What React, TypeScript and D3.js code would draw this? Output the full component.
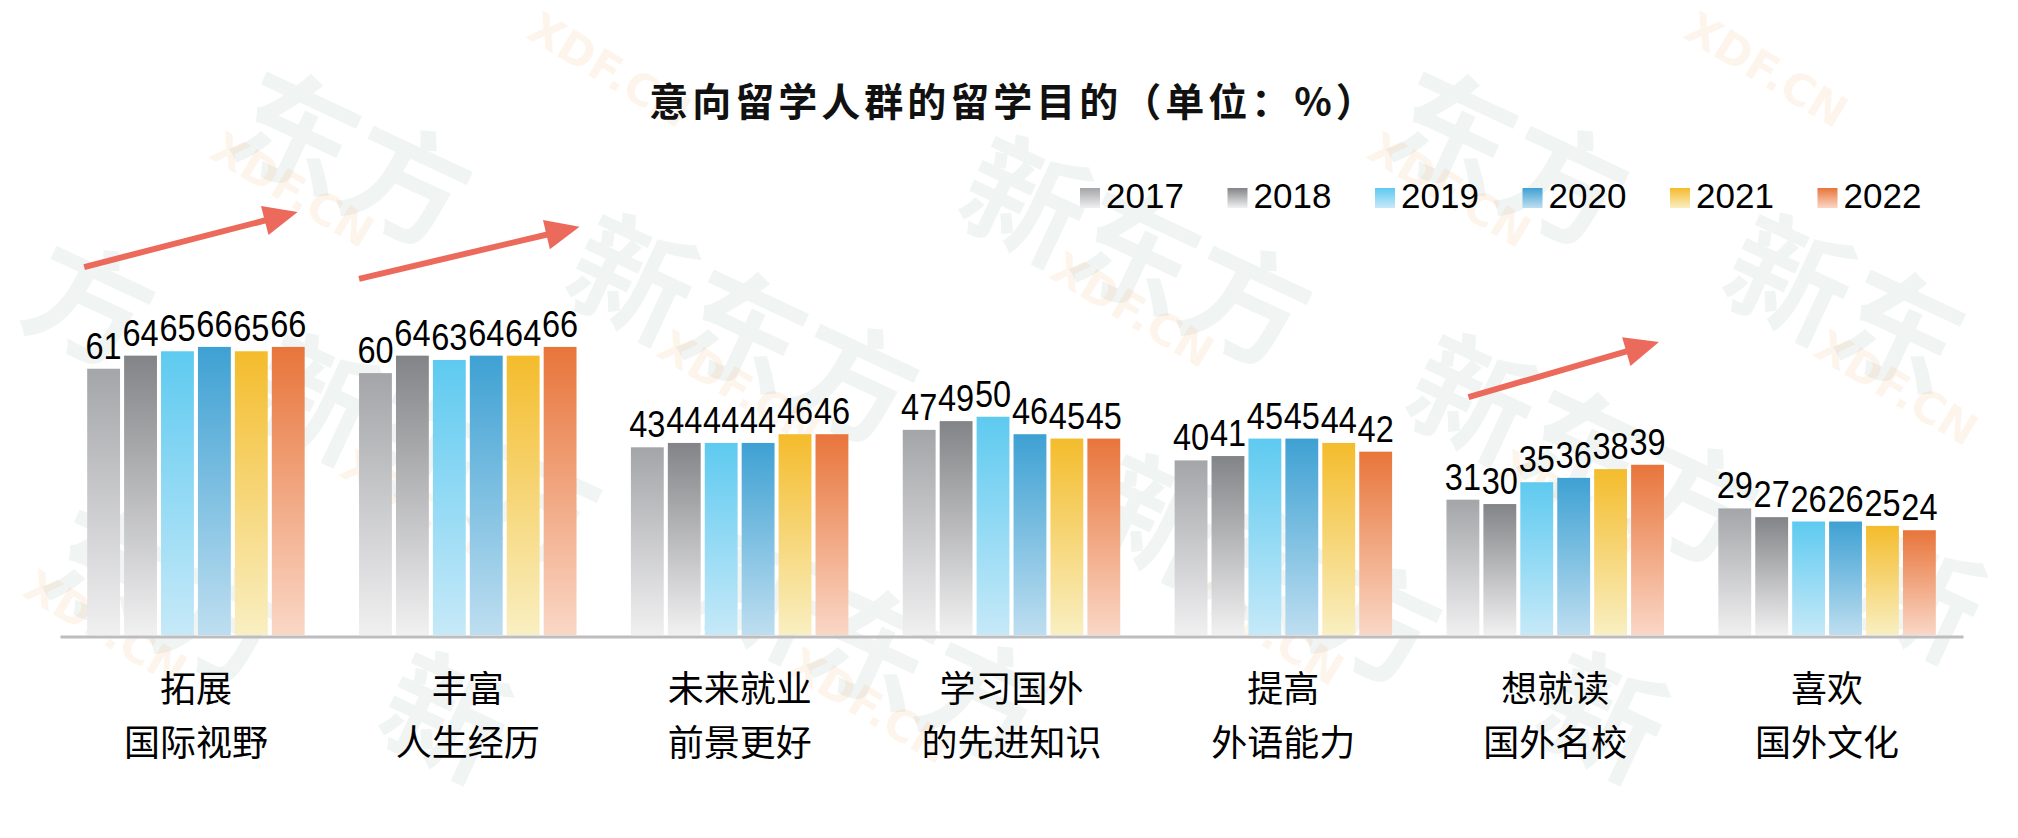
import * as d3 from "d3";
import { useEffect, useRef } from "react";

// category labels, two lines each
const categoriesTop = ["拓展", "丰富", "未来就业", "学习国外", "提高", "想就读", "喜欢"];
const categoriesBottom = ["国际视野", "人生经历", "前景更好", "的先进知识", "外语能力", "国外名校", "国外文化"];

const years = ["2017", "2018", "2019", "2020", "2021", "2022"];

// % per category, one array per year
const values2017 = [61, 60, 43, 47, 40, 31, 29];
const values2018 = [64, 64, 44, 49, 41, 30, 27];
const values2019 = [65, 63, 44, 50, 45, 35, 26];
const values2020 = [66, 64, 44, 46, 45, 36, 26];
const values2021 = [65, 64, 46, 45, 44, 38, 25];
const values2022 = [66, 66, 46, 45, 42, 39, 24];
const series = [values2017, values2018, values2019, values2020, values2021, values2022];

const topColors = ["#a4a5a8", "#838487", "#5ecaf0", "#3ea1d3", "#f4bc2c", "#e8753b"];
const bottomColors = ["#f0f0f1", "#f1f1f2", "#c6e9f8", "#bedef0", "#f9efc2", "#fad7c6"];

// trend arrows: which group, start / end height in value units
const trendGroups = [0, 1, 5];
const trendFrom = [84.3, 81.6, 54.5];
const trendTo = [96.9, 93.5, 67.1];

const title = "意向留学人群的留学目的（单位：%）";
const brand = ["新", "东", "方"];

const W = 2018;
const H = 838;

// does a rotated box (given in local coords, origin at translate point) stay inside the picture
function fits(mx: number, my: number, x0: number, x1: number, top: number, bottom: number, deg: number) {
  const r = (deg * Math.PI) / 180;
  const c = Math.cos(r);
  const s = Math.sin(r);
  const pts = [
    [x0, top],
    [x1, top],
    [x0, bottom],
    [x1, bottom],
  ].map(([u, v]) => [mx + u * c - v * s, my + u * s + v * c]);
  return pts.every(([px, py]) => px >= 2 && px <= W - 2 && py >= 2 && py <= H - 2);
}

function App() {
  const ref = useRef<SVGSVGElement>(null);

  useEffect(() => {
    const svg = d3.select(ref.current);
    svg.selectAll("*").remove();

    const defs = svg.append("defs");
    years.forEach((yr, i) => {
      const g = defs
        .append("linearGradient")
        .attr("id", `grad-${yr}`)
        .attr("x1", 0)
        .attr("y1", 0)
        .attr("x2", 0)
        .attr("y2", 1);
      g.append("stop").attr("offset", "0%").attr("stop-color", topColors[i]);
      g.append("stop").attr("offset", "100%").attr("stop-color", bottomColors[i]);
    });

    // watermark, drawn under the chart; glyphs that would be cut at the edge are skipped
    const marks: [number, number][] = [];
    for (let a = -5; a <= 7; a++) {
      for (let b = -5; b <= 7; b++) {
        const px = 156 + 447 * a - 317 * b;
        const py = 198 * a + 120 * b;
        if (px >= -244 && px < 913 && py > -300 && py < 880) marks.push([px, py]);
      }
    }
    const wm = svg.append("g").attr("pointer-events", "none");
    const fs = 122;
    const rot = 25;
    [-1, 0, 1, 2].forEach((k) => {
      marks.forEach(([px, py]) => {
        const mx = px + 1157 * k;
        if (mx < -500 || mx > 2100) return;
        brand.forEach((ch, j) => {
          if (!fits(mx, py, j * fs, (j + 1) * fs, 2, fs - 6, rot)) return;
          wm.append("text")
            .attr("transform", `translate(${mx},${py}) rotate(${rot})`)
            .attr("x", j * fs)
            .attr("y", fs * 0.87)
            .attr("font-family", "'Noto Sans CJK SC', sans-serif")
            .attr("font-weight", 700)
            .attr("font-size", fs)
            .attr("fill", "#336b50")
            .attr("fill-opacity", 0.075)
            .text(ch);
        });
        if (fits(mx + 70, py + 126, 0, 205, 2, 40, 31)) {
          wm.append("text")
            .attr("transform", `translate(${mx + 70},${py + 126}) rotate(31)`)
            .attr("y", 36)
            .attr("font-family", "'DejaVu Sans', sans-serif")
            .attr("font-weight", 700)
            .attr("font-size", 44)
            .attr("fill", "#f08a3a")
            .attr("fill-opacity", 0.09)
            .text("XDF.CN");
        }
      });
    });

    const x0 = d3
      .scaleBand()
      .domain(categoriesTop)
      .range([60, 1963])
      .paddingInner(0.2)
      .paddingOuter(0.1);

    const x1 = d3
      .scaleBand()
      .domain(years)
      .range([0, x0.bandwidth()])
      .paddingInner(0.11);

    const yScale = d3.scaleLinear().domain([0, 100]).range([635, 198.5]);

    // title
    svg
      .append("text")
      .attr("x", 1014)
      .attr("y", 99)
      .attr("text-anchor", "middle")
      .attr("dominant-baseline", "central")
      .attr("font-family", "'Noto Sans CJK SC', sans-serif")
      .attr("font-weight", 700)
      .attr("font-size", 39)
      .attr("letter-spacing", 4)
      .attr("fill", "#111")
      .text(title);

    // legend
    const legend = svg
      .append("g")
      .selectAll("g")
      .data(years)
      .join("g")
      .attr("transform", (_, i) => `translate(${1080 + i * 147.5},188)`);
    legend
      .append("rect")
      .attr("width", 20)
      .attr("height", 20)
      .attr("fill", (d) => `url(#grad-${d})`);
    legend
      .append("text")
      .attr("x", 26)
      .attr("y", 20)
      .attr("font-family", "'Liberation Sans', Arial, sans-serif")
      .attr("font-size", 35)
      .attr("fill", "#000")
      .text((d) => d);

    // bars
    const groups = svg
      .append("g")
      .selectAll("g")
      .data(categoriesTop)
      .join("g")
      .attr("transform", (d) => `translate(${x0(d)},0)`);

    groups
      .selectAll("rect")
      .data((_, c) => years.map((yr, i) => ({ yr, v: series[i][c] })))
      .join("rect")
      .attr("x", (d) => x1(d.yr)!)
      .attr("y", (d) => yScale(d.v))
      .attr("width", x1.bandwidth())
      .attr("height", (d) => yScale(0) - yScale(d.v))
      .attr("fill", (d) => `url(#grad-${d.yr})`);

    // value labels, slightly condensed so neighbours just touch
    groups
      .selectAll("text")
      .data((_, c) => years.map((yr, i) => ({ yr, v: series[i][c] })))
      .join("text")
      .attr(
        "transform",
        (d) => `translate(${x1(d.yr)! + x1.bandwidth() / 2},${yScale(d.v) - 10}) scale(0.89,1)`
      )
      .attr("text-anchor", "middle")
      .attr("font-family", "'Liberation Sans', Arial, sans-serif")
      .attr("font-size", 36.5)
      .attr("fill", "#000")
      .text((d) => d.v);

    // baseline
    const axis = svg
      .append("g")
      .attr("transform", `translate(0,${yScale(0) + 1.5})`)
      .call(d3.axisBottom(x0).tickSize(0).tickSizeOuter(0).tickFormat(() => ""));
    axis.select(".domain").attr("stroke", "#bdbdc0").attr("stroke-width", 3);

    // category labels
    const cats = svg
      .append("g")
      .selectAll("g")
      .data(categoriesTop)
      .join("g")
      .attr("transform", (d) => `translate(${x0(d)! + x0.bandwidth() / 2},0)`)
      .attr("font-family", "'Noto Sans CJK SC', sans-serif")
      .attr("font-size", 36)
      .attr("text-anchor", "middle")
      .attr("fill", "#000");
    cats
      .append("text")
      .attr("y", 686)
      .attr("dominant-baseline", "central")
      .text((d) => d);
    cats
      .append("text")
      .attr("y", 740)
      .attr("dominant-baseline", "central")
      .text((_, i) => categoriesBottom[i]);

    // trend arrows
    const startShift = [-3, 0, 22];
    const endShift = [-7, 3, -5];
    trendGroups.forEach((gi, k) => {
      const gx = x0(categoriesTop[gi])!;
      const sx = gx + startShift[k];
      const ex = gx + x0.bandwidth() + endShift[k];
      const sy = yScale(trendFrom[k]);
      const ey = yScale(trendTo[k]);
      const len = Math.hypot(ex - sx, ey - sy);
      const ux = (ex - sx) / len;
      const uy = (ey - sy) / len;
      const headLen = 34;
      const half = 15;
      const bx = ex - ux * headLen;
      const by = ey - uy * headLen;
      svg
        .append("line")
        .attr("x1", sx)
        .attr("y1", sy)
        .attr("x2", bx + ux * 2)
        .attr("y2", by + uy * 2)
        .attr("stroke", "#ec6a5c")
        .attr("stroke-width", 6);
      svg
        .append("polygon")
        .attr(
          "points",
          [
            [ex, ey],
            [bx - uy * half, by + ux * half],
            [bx + uy * half, by - ux * half],
          ]
            .map((p) => p.join(","))
            .join(" ")
        )
        .attr("fill", "#ec6a5c");
    });
  }, []);

  return (
    <svg
      ref={ref}
      width={W}
      height={H}
      style={{ position: "absolute", left: 0, top: 0, background: "#fff" }}
    />
  );
}

export default App;
